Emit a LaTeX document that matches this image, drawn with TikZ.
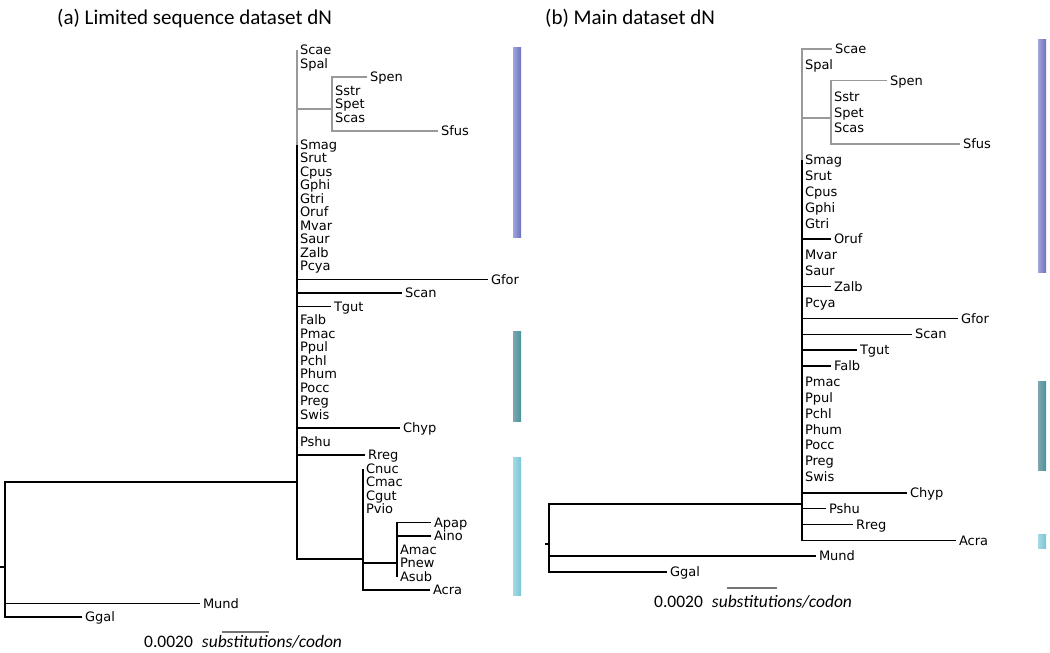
\documentclass[tikz,border=0pt]{standalone}
\usepackage{fontspec}
\setmainfont{Carlito}
\newfontfamily\leaffont{DejaVu Sans}
\definecolor{purpL}{RGB}{160,165,218}
\definecolor{purpR}{RGB}{108,114,190}
\definecolor{tealL}{RGB}{130,165,175}
\definecolor{tealR}{RGB}{68,150,155}
\definecolor{cyanL}{RGB}{165,218,228}
\definecolor{cyanR}{RGB}{120,198,212}
\begin{document}
\begin{tikzpicture}[x=1pt,y=-1pt,
  leaf/.style={anchor=west,inner xsep=3pt,inner ysep=0pt,outer sep=0pt,text height=9.3pt,text depth=0pt,font=\leaffont\fontsize{13}{14}\selectfont},
  br/.style={line width=1.45pt,draw=black},
  gbr/.style={line width=1.45pt,draw=black!40},
  title/.style={anchor=base west,font=\fontsize{21}{24}\selectfont,inner sep=0pt},
  scaletext/.style={anchor=base west,font=\fontsize{17.5}{20}\selectfont,inner sep=0pt},
  sbar/.style={line width=1.1pt,draw=black!55}]
\useasboundingbox (0,0) rectangle (1050,653);

% ---------------- titles
\node[title] (titleA) at (57,24) {(a) Limited sequence dataset dN};
\node[title] (titleB) at (545,24) {(b) Main dataset dN};

% ---------------- colour bars
\shade[left color=purpL,right color=purpR] (513,47) rectangle (521,237);
\shade[left color=tealL,right color=tealR] (513,331) rectangle (521,421);
\shade[left color=cyanL,right color=cyanR] (513,457) rectangle (521,595);
\shade[left color=purpL,right color=purpR] (1038,39) rectangle (1046,272);
\shade[left color=tealL,right color=tealR] (1038,381) rectangle (1046,470);
\shade[left color=cyanL,right color=cyanR] (1038,534) rectangle (1046,548);

% ================= tree (a)
\foreach \n/\i/\x in {Scae/0/297,Spal/1/297,Spen/2/367,Sstr/3/332,Spet/4/332,Scas/5/332,Sfus/6/438,
  Smag/7/297,Srut/8/297,Cpus/9/297,Gphi/10/297,Gtri/11/297,Oruf/12/297,Mvar/13/297,Saur/14/297,
  Zalb/15/297,Pcya/16/297,Gfor/17/488,Scan/18/402,Tgut/19/331,Falb/20/297,Pmac/21/297,Ppul/22/297,
  Pchl/23/297,Phum/24/297,Pocc/25/297,Preg/26/297,Swis/27/297,Chyp/28/400,Pshu/29/297,Rreg/30/365,
  Cnuc/31/363,Cmac/32/363,Cgut/33/363,Pvio/34/363,Apap/35/431,Aino/36/431,Amac/37/397,Pnew/38/397,
  Asub/39/397,Acra/40/430,Mund/41/200,Ggal/42/82}
  \node[leaf] (a\n) at (\x,{50+13.5*\i}) {\n};

\coordinate (tA) at (0,567);
\coordinate (rootA) at (5,567);
\coordinate (mA) at (297,482);
\coordinate (sA) at (332,109);
\coordinate (cA) at (363,559);
\coordinate (dA) at (397,563);

\foreach \n in {Scae,Spal} \draw[gbr] (mA) |- (a\n.west);
\draw[gbr] (mA) |- (sA);
\foreach \n in {Spen,Sstr,Spet,Scas,Sfus} \draw[gbr] (sA) |- (a\n.west);
\foreach \n in {Smag,Srut,Cpus,Gphi,Gtri,Oruf,Mvar,Saur,Zalb,Pcya,Gfor,Scan,Tgut,Falb,
  Pmac,Ppul,Pchl,Phum,Pocc,Preg,Swis,Chyp,Pshu,Rreg} \draw[br] (mA) |- (a\n.west);
\draw[br] (mA) |- (cA);
\foreach \n in {Cnuc,Cmac,Cgut,Pvio,Acra} \draw[br] (cA) |- (a\n.west);
\draw[br] (cA) |- (dA);
\foreach \n in {Apap,Aino,Amac,Pnew,Asub} \draw[br] (dA) |- (a\n.west);
\draw[br] (rootA) |- (mA);
\draw[br] (rootA) |- (aMund.west);
\draw[br] (rootA) |- (aGgal.west);
\draw[br] (tA) -- (rootA);

\coordinate (sa1) at (222,632);
\coordinate (sa2) at (269,632);
\draw[sbar] (sa1) -- (sa2);
\node[scaletext] (stA) at (144,647) {0.0020\hspace{9pt}\textit{substitutions/codon}};

% ================= tree (b)
\foreach \n/\i/\x in {Scae/0/832,Spal/1/802,Spen/2/887,Sstr/3/831,Spet/4/831,Scas/5/831,Sfus/6/960,
  Smag/7/802,Srut/8/802,Cpus/9/802,Gphi/10/802,Gtri/11/802,Oruf/12/831,Mvar/13/802,Saur/14/802,
  Zalb/15/831,Pcya/16/802,Gfor/17/958,Scan/18/912,Tgut/19/857,Falb/20/831,Pmac/21/802,Ppul/22/802,
  Pchl/23/802,Phum/24/802,Pocc/25/802,Preg/26/802,Swis/27/802,Chyp/28/907,Pshu/29/826,Rreg/30/853,
  Acra/31/956,Mund/32/816,Ggal/33/667}
  \node[leaf] (b\n) at (\x,{49+15.85*\i}) {\n};

\coordinate (tB) at (545,544);
\coordinate (rootB) at (549,544);
\coordinate (mB) at (802,504);
\coordinate (sB) at (831,118);

\foreach \n in {Scae,Spal} \draw[gbr] (mB) |- (b\n.west);
\draw[gbr] (mB) |- (sB);
\foreach \n in {Spen,Sstr,Spet,Scas,Sfus} \draw[gbr] (sB) |- (b\n.west);
\foreach \n in {Smag,Srut,Cpus,Gphi,Gtri,Oruf,Mvar,Saur,Zalb,Pcya,Gfor,Scan,Tgut,Falb,
  Pmac,Ppul,Pchl,Phum,Pocc,Preg,Swis,Chyp,Pshu,Rreg,Acra} \draw[br] (mB) |- (b\n.west);
\draw[br] (rootB) |- (mB);
\draw[br] (rootB) |- (bMund.west);
\draw[br] (rootB) |- (bGgal.west);
\draw[br] (tB) -- (rootB);

\coordinate (sb1) at (727,588);
\coordinate (sb2) at (777,588);
\draw[sbar] (sb1) -- (sb2);
\node[scaletext] (stB) at (654,607) {0.0020\hspace{9pt}\textit{substitutions/codon}};
\end{tikzpicture}
\end{document}
